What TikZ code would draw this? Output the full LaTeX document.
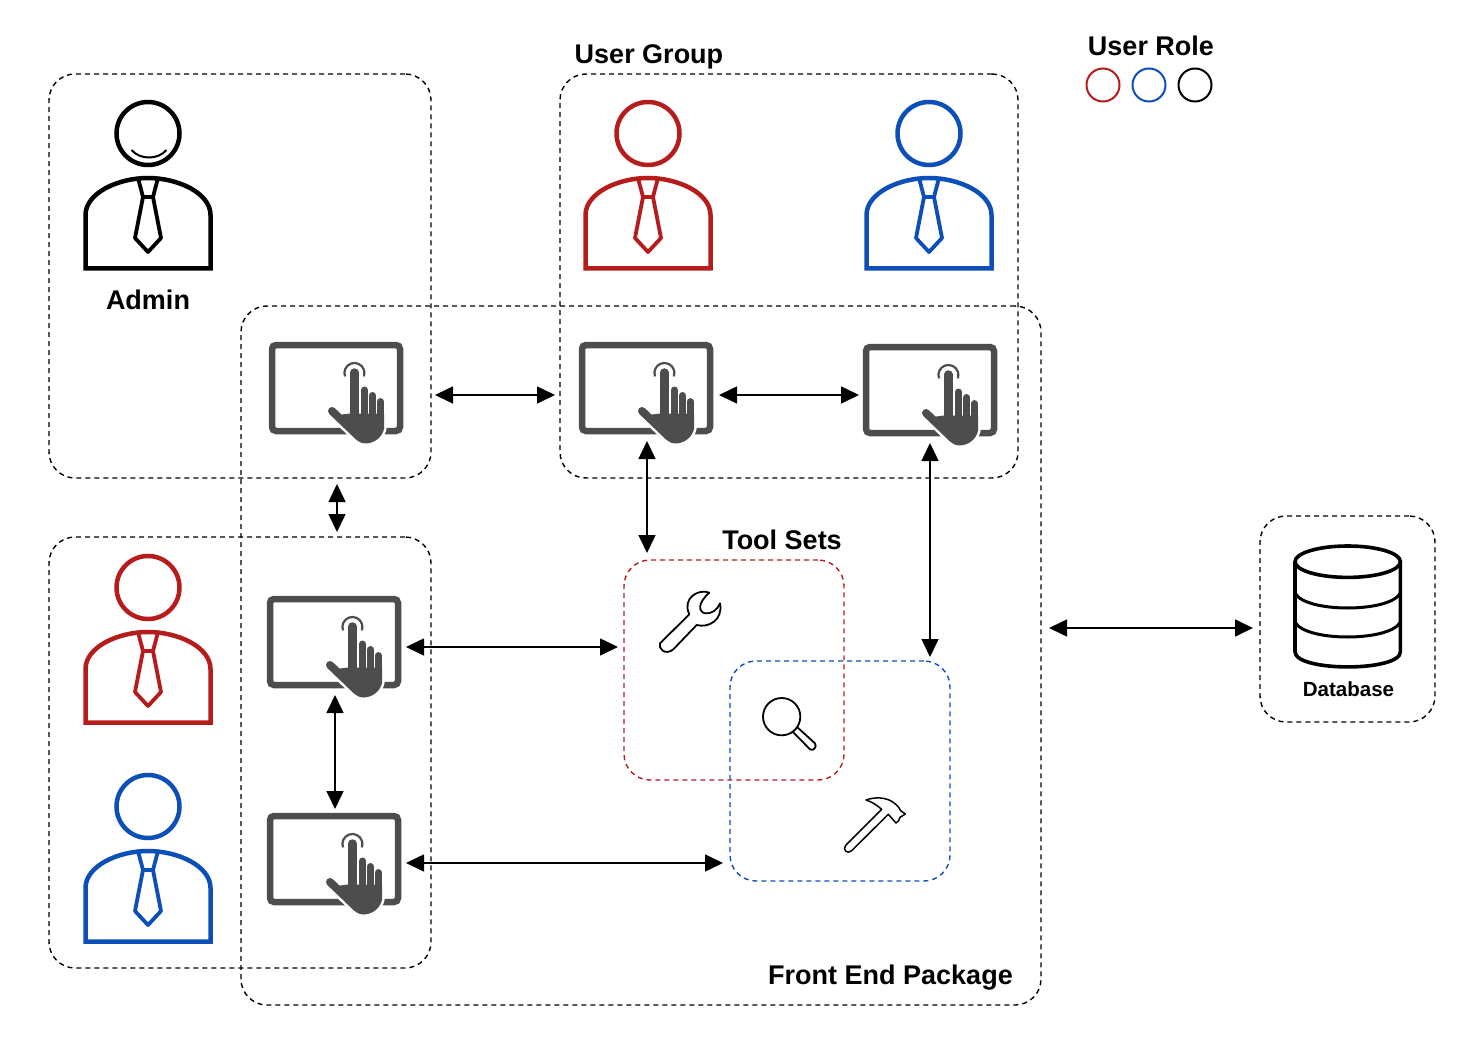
\documentclass[tikz,border=0pt]{standalone}
\usepackage{fontspec}
\setmainfont{Liberation Sans}
\usetikzlibrary{arrows.meta,positioning}
\definecolor{rolered}{HTML}{B71C1C}
\definecolor{roleblue}{HTML}{0D4FB8}
\definecolor{tabgrey}{HTML}{4D4D4D}

\begin{document}
\begin{tikzpicture}[
    x=1pt,y=-1pt,
    group/.style={draw,dashed,dash pattern=on 5pt off 4pt,line width=1.4pt,rounded corners=26pt,
                  inner sep=0pt,outer sep=0pt},
    title/.style={font=\fontsize{27}{30}\selectfont\bfseries,inner sep=0pt},
    role/.style={draw=#1,circle,line width=2pt,minimum size=33pt,inner sep=0pt},
    link/.style={{Triangle[length=18pt,width=17pt]}-{Triangle[length=18pt,width=17pt]},line width=1.6pt},
    tabbox/.style={minimum width=134pt,minimum height=102pt,inner sep=0pt,outer sep=0pt},
    pics/person/.style={code={
      \draw[#1,line width=4.5pt] (0,0.5) circle (31.5);
      \draw[#1,line width=4.5pt,line join=miter] (-62.5,135.5) -- (-62.5,82)
        .. controls (-62.5,60) and (-30,45) .. (0,45)
        .. controls (30,45) and (62.5,60) .. (62.5,82) -- (62.5,135.5) -- cycle;
      \draw[#1,line width=3.8pt,line join=round] (-10,45) -- (-5,64) -- (5,64) -- (10,45);
      \draw[#1,line width=3.8pt,line join=round] (-5,64) -- (-13,105) -- (0,119) -- (13,105) -- (5,64);
    }},
    pics/tablet/.style={code={
      \node[tabbox] (-box) at (67,51) {};
      \draw[tabgrey,line width=6.5pt,rounded corners=4pt] (3,3) rectangle (131,89);
      \foreach \col/\wd in {white/1,tabgrey/0}{
        \draw[\col,line width=8.5pt+5pt*\wd,line cap=round] (85.3,30.5) -- (85.3,75);
        \draw[\col,line width=7pt+1.5pt*\wd,line cap=round] (95.4,48) -- (95.4,80);
        \draw[\col,line width=7pt+1.5pt*\wd,line cap=round] (103.5,53.5) -- (103.5,80);
        \draw[\col,line width=6.8pt+5pt*\wd,line cap=round] (111.3,59.5) -- (111.3,85);
        \draw[\col,line width=8pt+5pt*\wd,line cap=round] (63,69) -- (86,91);
        \fill[\col,draw=\col,line width=1pt+5pt*\wd,line join=round] (81,72) -- (114.7,72) -- (114.7,86)
          .. controls (113,95) and (105,101) .. (96,101)
          .. controls (92,101) and (88,98) .. (84,94) -- (66,74) -- cycle;
      }
      \draw[tabgrey,line width=2.2pt] (76,34.4) arc[start angle=160,end angle=380,radius=10];
    }},
  ]
    \useasboundingbox (0,0) rectangle (1484,1051);
    \fill[white] (0,0) rectangle (1484,1051);

    % dashed groups
    \node[group,minimum width=382pt,minimum height=404pt] (admin) at (240,276) {};
    \node[group,minimum width=458pt,minimum height=404pt] (usergroup) at (789,276) {};
    \node[group,minimum width=382pt,minimum height=431pt] (lower) at (240,752.5) {};
    \node[group,minimum width=800pt,minimum height=699pt] (frontend) at (641,655.5) {};
    \node[group,minimum width=175pt,minimum height=206pt] (dbgroup) at (1347.5,619) {};
    \node[group,draw=rolered,minimum width=220pt,minimum height=220pt] (redtools) at (734,670) {};
    \node[group,draw=roleblue,minimum width=220pt,minimum height=220pt] (bluetools) at (840,771) {};

    % titles
    \node[title] (usergrouplbl) at (649,57) {User Group};
    \node[title] (rolelbl) at (1151,46) {User Role};
    \node[title] (adminlbl) at (148,300) {Admin};
    \node[title] (toollbl) at (782,540) {Tool Sets};
    \node[title] (frontlbl) at (890.5,978) {Front End Package};
    \node[font=\fontsize{20.5}{24}\selectfont\bfseries,inner sep=0pt] (dblbl) at (1348.5,689) {Database};

    % role legend
    \node[role=rolered] (rolea) at (1103,85) {};
    \node[role=roleblue] (roleb) at (1149,85) {};
    \node[role=black] (rolec) at (1195,85) {};

    % people
    \pic at (148,133) {person=black};
    \draw[line width=2pt] (131.5,150) .. controls (140,160) and (158,160) .. (166.5,150);
    \pic at (648,133) {person=rolered};
    \pic at (929,133) {person=roleblue};
    \pic at (148,587) {person=rolered};
    \pic at (148,806) {person=roleblue};

    % tablets
    \pic (taba) at (269,342) {tablet};
    \pic (tabb) at (579,342) {tablet};
    \pic (tabc) at (863,344) {tablet};
    \pic (tabd) at (267,596) {tablet};
    \pic (tabe) at (267,813) {tablet};

    % tools
    \begin{scope}[shift={(640,580)},scale=1/3,line width=1.8pt,line join=round]
      \draw (60,190) .. controls (54,205) and (75,228) .. (100,208) -- (170,135)
        .. controls (205,145) and (250,120) .. (240,70)
        .. controls (232,90) and (215,102) .. (195,100)
        .. controls (175,95) and (172,70) .. (208,38)
        .. controls (175,25) and (125,55) .. (148,103) -- cycle;
      \draw (425,410) circle (56);
      \draw (470,440) -- (525,490) .. controls (532,500) and (520,515) .. (510,508) -- (458,455);
      \draw[line width=1.5pt] (618,795) .. controls (605,808) and (622,825) .. (635,812) -- (745,703)
        -- (768,729) -- (776,722) -- (780,712) -- (796,702) -- (782,692)
        .. controls (760,650) and (710,648) .. (678,660) .. controls (695,665) and (710,675) .. (725,688) -- cycle;
    \end{scope}

    % database
    \begin{scope}[line width=3.6pt]
      \draw (1347.7,561.7) ellipse (52.7 and 15.7);
      \draw (1295,561.7) -- (1295,651.7) .. controls (1295,672) and (1400.4,672) .. (1400.4,651.7) -- (1400.4,561.7);
      \draw[line width=3pt] (1295,593) .. controls (1305,613) and (1390,613) .. (1400.4,593);
      \draw[line width=3pt] (1295,622) .. controls (1305,642) and (1390,642) .. (1400.4,622);
    \end{scope}

    % links
    \draw[link,shorten <=32pt,shorten >=24pt] ([yshift=-2pt]taba-box.east) -- ([yshift=-2pt]tabb-box.west);
    \draw[link,shorten <=6pt,shorten >=4pt] ([yshift=-2pt]tabb-box.east) -- ([yshift=-2pt]tabb-box.east -| tabc-box.west);
    \draw[link,shorten <=40pt,shorten >=64pt] ([xshift=1pt]taba-box.south) -- ([xshift=1pt]taba-box.south |- tabd-box.north);
    \draw[link,shorten <=-3pt,shorten >=7pt] ([xshift=1pt]tabb-box.south) -- ([xshift=1pt]tabb-box.south |- redtools.north);
    \draw[link,shorten <=-3pt,shorten >=4pt] (tabc-box.south) -- (tabc-box.south |- bluetools.north);
    \draw[link,shorten <=5pt,shorten >=6pt] (tabd-box.east) -- (tabd-box.east -| redtools.west);
    \draw[link,shorten <=5pt,shorten >=7pt] ([yshift=1pt]tabe-box.east) -- ([yshift=1pt]tabe-box.east -| bluetools.west);
    \draw[link,shorten <=-3pt,shorten >=4pt] ([xshift=1pt]tabd-box.south) -- ([xshift=1pt]tabe-box.north);
    \draw[link,shorten <=8pt,shorten >=7pt] (frontend.east |- 0,628) -- (dbgroup.west |- 0,628);
  \end{tikzpicture}
\end{document}
